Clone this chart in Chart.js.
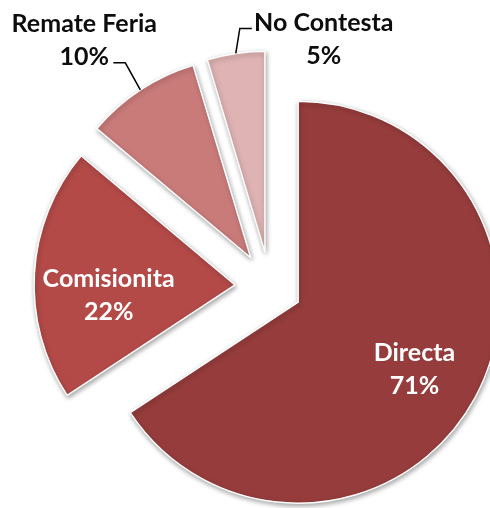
<!DOCTYPE html>
<html lang="es">
<head>
<meta charset="UTF-8">
<title>Tipo de venta</title>
<script src="https://cdn.jsdelivr.net/npm/chart.js"></script>
<style>
    html, body {
        margin: 0;
        padding: 0;
        background: #fff;
        overflow: hidden;
    }
    #wrap {
        width: 490px;
        height: 508px;
    }
</style>
</head>
<body>
<div id="wrap"><canvas id="pieChart" width="490" height="508"></canvas></div>
<script>
    // data
    const labels = ['Directa', 'Comisionita', 'Remate Feria', 'No Contesta'];
    const values = [71, 22, 10, 5];
    const percentLabels = ['71%', '22%', '10%', '5%'];
    const colors = ['#963C3C', '#B34A48', '#C97B7A', '#DFB3B3'];

    const FONT = 'bold 25px Lato, "Open Sans", sans-serif';

    // Chart.js grows small exploded slices a bit; undo that so every slice keeps the same radius
    const evenExplode = {
        id: 'evenExplode',
        afterDatasetUpdate(chart, args) {
            const meta = chart.getDatasetMeta(args.index);
            meta.data.forEach(arc => {
                const off = (arc.options.offset || 0) / 4;
                const fix = 1 - Math.sin(Math.min(Math.PI, arc.circumference));
                const grow = off * fix;
                const R = arc.outerRadius;
                arc.outerRadius = R - grow;
                const widen = (grow / Math.PI) / R / 2;
                arc.startAngle -= widen;
                arc.endAngle += widen;
            });
        }
    };

    const sliceShadow = {
        id: 'sliceShadow',
        beforeDatasetsDraw(chart) {
            const ctx = chart.ctx;
            ctx.save();
            ctx.shadowColor = 'rgba(0, 0, 0, 0.35)';
            ctx.shadowBlur = 5;
            ctx.shadowOffsetX = 1;
            ctx.shadowOffsetY = 2;
        },
        afterDatasetsDraw(chart) {
            chart.ctx.restore();
        }
    };

    // inside labels: fraction of radius + nudge; outside labels: leader path + text offset from the slice edge
    const labelSpots = [
        { inside: true, k: 0.68, dx: -4, dy: 2 },
        { inside: true, k: 0.63, dx: 0, dy: 18 },
        { inside: false, path: [[-15, -27], [-27, -27]], tx: -56, ty: -49 },
        { inside: false, path: [[4, -25], [16, -25]], tx: 88, ty: -14 }
    ];

    const sliceLabels = {
        id: 'sliceLabels',
        afterDatasetsDraw(chart) {
            const ctx = chart.ctx;
            const meta = chart.getDatasetMeta(0);
            const R = meta.controller.outerRadius;
            ctx.save();
            ctx.font = FONT;
            ctx.textAlign = 'center';
            ctx.textBaseline = 'middle';
            meta.data.forEach((arc, i) => {
                const mid = (arc.startAngle + arc.endAngle) / 2;
                const shift = (arc.options.offset || 0) / 4;
                const vx = arc.x + Math.cos(mid) * shift;
                const vy = arc.y + Math.sin(mid) * shift;
                const spot = labelSpots[i];
                let cx, cy;
                if (spot.inside) {
                    cx = vx + Math.cos(mid) * R * spot.k + spot.dx;
                    cy = vy + Math.sin(mid) * R * spot.k + spot.dy;
                    ctx.fillStyle = '#ffffff';
                } else {
                    const ex = vx + Math.cos(mid) * R;
                    const ey = vy + Math.sin(mid) * R;
                    ctx.strokeStyle = '#000000';
                    ctx.lineWidth = 1.5;
                    ctx.beginPath();
                    ctx.moveTo(ex, ey);
                    spot.path.forEach(p => ctx.lineTo(ex + p[0], ey + p[1]));
                    ctx.stroke();
                    cx = ex + spot.tx;
                    cy = ey + spot.ty;
                    ctx.fillStyle = '#0d0d0d';
                }
                ctx.fillText(labels[i], cx, cy - 16.5);
                ctx.fillText(percentLabels[i], cx, cy + 16.5);
            });
            ctx.restore();
        }
    };

    const ctx = document.getElementById('pieChart').getContext('2d');
    new Chart(ctx, {
        type: 'pie',
        data: {
            labels: labels,
            datasets: [{
                data: values,
                backgroundColor: colors,
                borderColor: '#ffffff',
                borderWidth: 1.5,
                offset: [128, 140, 140, 140],
                clip: false
            }]
        },
        options: {
            responsive: false,
            animation: false,
            devicePixelRatio: 1,
            radius: 201,
            layout: { padding: { left: 50, right: 0, top: 66, bottom: 0 } },
            plugins: {
                legend: { display: false },
                title: { display: false },
                tooltip: { enabled: false }
            }
        },
        plugins: [evenExplode, sliceShadow, sliceLabels]
    });
</script>
</body>
</html>
